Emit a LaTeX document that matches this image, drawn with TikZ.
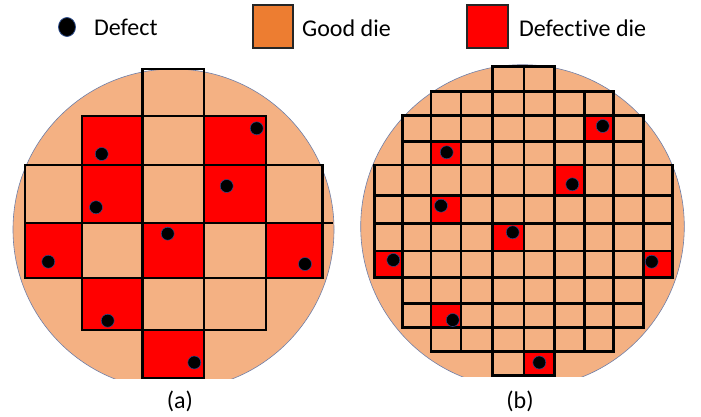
\documentclass[tikz,border=0pt]{standalone}
\usepackage{fontspec}
\setmainfont{Carlito}[RawFeature={-liga;-dlig}]
\definecolor{waferfill}{HTML}{F4B183}
\definecolor{goodlegend}{HTML}{ED7D31}
\definecolor{badred}{HTML}{FF0000}
\definecolor{rimcol}{HTML}{6F7FA8}
\definecolor{dotrim}{HTML}{2F4F8F}
\tikzset{
  gridline/.style={draw=black, line width=2.7pt, line join=miter},
  defectdot/.style={fill=black, draw=dotrim, line width=0.5pt},
  legendbox/.style={draw=black!85, line width=2pt},
  lbl/.style={anchor=base west, inner sep=0pt, font=\fontsize{24}{28}\selectfont},
  caption/.style={anchor=base, inner sep=0pt, font=\fontsize{24}{28}\selectfont},
}
\begin{document}
\begin{tikzpicture}[x=1pt,y=-1pt]
\useasboundingbox (0,0) rectangle (701,416);
\fill[white] (0,0) rectangle (701,416);
% ---------- Legend ----------
\fill[black, draw=dotrim, line width=0.8pt] (67,27) ellipse[x radius=8.5pt, y radius=9.5pt];
\node[lbl] (tdefect) at (94,35.5) {Defect};
\filldraw[legendbox, fill=goodlegend] (252.7,5) rectangle (293.3,47.7);
\node[lbl] (tgood) at (302,36) {Good die};
\filldraw[legendbox, fill=badred] (467.3,5) rectangle (507.7,48);
\node[lbl] (tbad) at (519,36) {Defective die};
% ---------- Wafer (a) ----------
\begin{scope}
  \clip (0,0) rectangle (701,378.3);
  \filldraw[fill=waferfill, draw=rimcol, line width=0.6pt] (173.5,229.5) circle[radius=160.5pt];
\end{scope}
\def\XA{{25,82,142.7,204,266,322.3}}
\def\YA{{69,116,165,223,278,330,378}}
\foreach \r/\c in {1/1,1/3,2/1,2/3,3/0,3/2,3/4,4/1,5/2}{
  \pgfmathsetmacro\xa{\XA[\c]}\pgfmathsetmacro\xb{\XA[\c+1]}
  \pgfmathsetmacro\ya{\YA[\r]}\pgfmathsetmacro\yb{\YA[\r+1]}
  \fill[badred] (\xa,\ya) rectangle (\xb,\yb);
}
\foreach \r/\a/\b in {0/2/2,1/1/3,2/0/4,3/0/4,4/1/3,5/2/2}{
  \foreach \c in {\a,...,\b}{
    \pgfmathsetmacro\xa{\XA[\c]}\pgfmathsetmacro\xb{\XA[\c+1]}
    \pgfmathsetmacro\ya{\YA[\r]}\pgfmathsetmacro\yb{\YA[\r+1]}
    \draw[gridline] (\xa,\ya) rectangle (\xb,\yb);
  }
}
\draw[gridline] (322.3,223) -- (333,223);
\foreach \x/\y in {101.7/154,256.7/128.3,96/207.3,226.7/186,167.7/233.7,48.3/261.7,305/264,107.7/320.7,194.3/362.5}{
  \filldraw[defectdot] (\x,\y) circle[radius=6.5pt];
}
\node[caption] (capa) at (180,408) {(a)};
% ---------- Wafer (b) ----------
\begin{scope}
  \clip (0,0) rectangle (701,376.7);
  \filldraw[fill=waferfill, draw=rimcol, line width=0.6pt] (522.5,226.5) circle[radius=161.8pt];
\end{scope}
\def\XB{{374.3,402.3,431,461,492.7,524,554.3,584.3,613.3,643.3,672.3}}
\def\YB{{66.7,91.7,115.7,141.7,165,195.7,223.3,251,277.7,303.3,327.7,351.7,375.7}}
\foreach \r/\c in {2/7,3/2,4/6,5/2,6/4,7/0,7/9,9/2,11/5}{
  \pgfmathsetmacro\xa{\XB[\c]}\pgfmathsetmacro\xb{\XB[\c+1]}
  \pgfmathsetmacro\ya{\YB[\r]}\pgfmathsetmacro\yb{\YB[\r+1]}
  \fill[badred] (\xa,\ya) rectangle (\xb,\yb);
}
\foreach \r/\a/\b in {0/4/5,1/2/7,2/1/8,3/1/8,4/0/9,5/0/9,6/0/9,7/0/9,8/1/8,9/1/8,10/2/7,11/4/5}{
  \foreach \c in {\a,...,\b}{
    \pgfmathsetmacro\xa{\XB[\c]}\pgfmathsetmacro\xb{\XB[\c+1]}
    \pgfmathsetmacro\ya{\YB[\r]}\pgfmathsetmacro\yb{\YB[\r+1]}
    \draw[gridline] (\xa,\ya) rectangle (\xb,\yb);
  }
}
\foreach \x/\y in {602.7/126,446.7/152.3,572.3/184.3,441/205.7,512.7/232.3,393.3/260,651.7/261.7,452.7/320,539.3/362.5}{
  \filldraw[defectdot] (\x,\y) circle[radius=6.5pt];
}
\node[caption] (capb) at (520,408) {(b)};
\end{tikzpicture}
\end{document}
